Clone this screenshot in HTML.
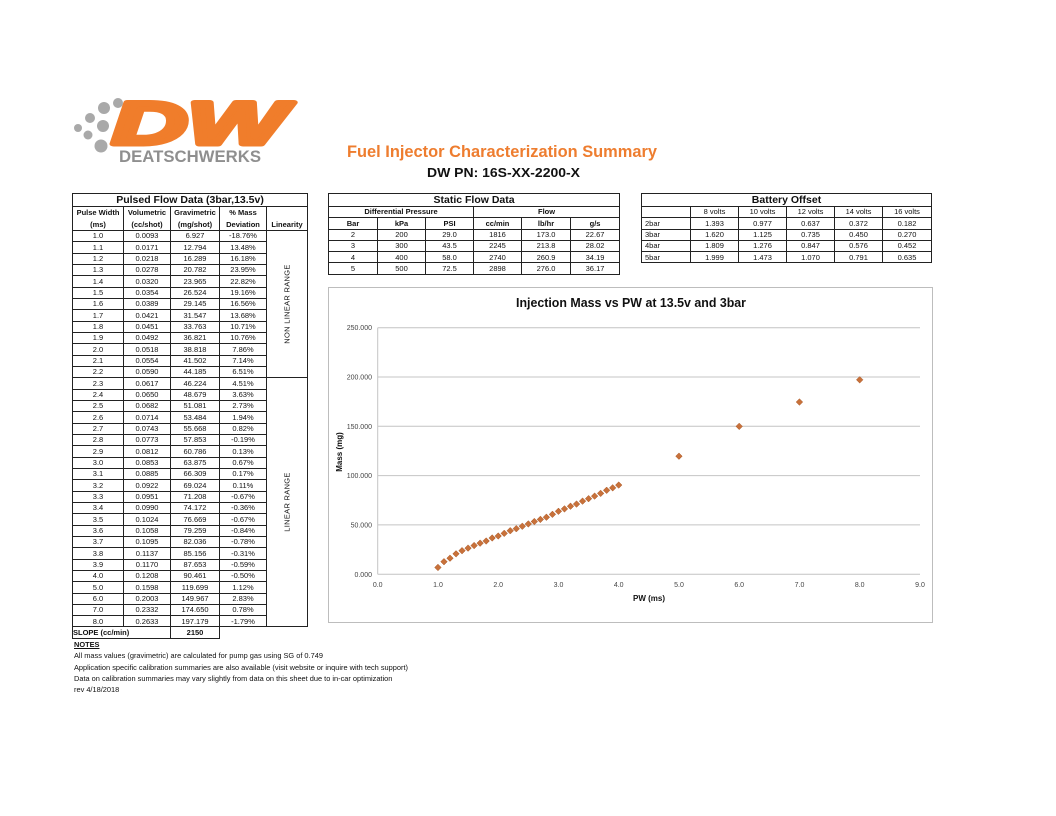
<!DOCTYPE html>
<html><head><meta charset="utf-8">
<style>
body{margin:0;width:1056px;height:816px;background:#fff;position:relative;overflow:hidden;font-family:"Liberation Sans",sans-serif;color:#111}
table{position:absolute;border-collapse:collapse;table-layout:fixed;font-size:7.5px}
td{border:1px solid #222;padding:0;text-align:center;white-space:nowrap;overflow:hidden;line-height:1}
.t{font-size:10.5px;font-weight:bold}
.b{font-weight:bold}
.rot{position:relative}
.rot span{position:absolute;left:50%;top:50%;transform:translate(-50%,-50%) rotate(-90deg);font-size:7.5px;letter-spacing:.3px}
#lt tr{height:11.33px}
#st tr,#bt tr{height:11.3px}
.nb{border:none}
.notes{position:absolute;left:74px;font-size:7.4px;line-height:11.3px}
</style></head><body>

<svg width="1056" height="816" style="position:absolute;left:0;top:0">
  <!-- logo -->
  <g fill="#a9a9a9">
    <circle cx="78" cy="128" r="4"/>
    <circle cx="90" cy="118" r="5"/>
    <circle cx="88" cy="135" r="4.5"/>
    <circle cx="104" cy="108" r="6"/>
    <circle cx="103" cy="126" r="6"/>
    <circle cx="101" cy="146" r="6.5"/>
    <circle cx="118" cy="103" r="5"/>
  </g>
  <text x="112" y="144" font-family="Liberation Sans" font-weight="bold" font-style="italic" font-size="60" fill="#f07d2b" stroke="#f07d2b" stroke-width="5" stroke-linejoin="round" textLength="174" lengthAdjust="spacingAndGlyphs">DW</text>
  <text x="119" y="162" font-family="Liberation Sans" font-weight="bold" font-size="17" fill="#8f8f8f" textLength="142" lengthAdjust="spacingAndGlyphs">DEATSCHWERKS</text>
  <text x="347" y="157" font-family="Liberation Sans" font-weight="bold" font-size="16.5" fill="#ee7d2f" textLength="310" lengthAdjust="spacingAndGlyphs">Fuel Injector Characterization Summary</text>
  <text x="427" y="177" font-family="Liberation Sans" font-weight="bold" font-size="12.5" fill="#111" textLength="153" lengthAdjust="spacingAndGlyphs">DW PN: 16S-XX-2200-X</text>

  <!-- chart -->
  <rect x="328.5" y="287.5" width="604" height="335" fill="#fff" stroke="#bdbdbd"/>
  <text x="631" y="307" text-anchor="middle" font-family="Liberation Sans" font-weight="bold" font-size="13" fill="#111" textLength="230" lengthAdjust="spacingAndGlyphs">Injection Mass vs PW at 13.5v and 3bar</text>
  <g stroke="#c4c4c4" stroke-width="1">
    <line x1="377.7" y1="327.7" x2="920" y2="327.7"/>
    <line x1="377.7" y1="377" x2="920" y2="377"/>
    <line x1="377.7" y1="426.3" x2="920" y2="426.3"/>
    <line x1="377.7" y1="475.6" x2="920" y2="475.6"/>
    <line x1="377.7" y1="524.9" x2="920" y2="524.9"/>
    <line x1="377.7" y1="574.3" x2="920" y2="574.3"/>
    <line x1="377.7" y1="327.7" x2="377.7" y2="574.3"/>
  </g>
  <g font-family="Liberation Sans" font-size="7" fill="#444" text-anchor="end">
    <text x="372" y="330">250.000</text>
    <text x="372" y="379.5">200.000</text>
    <text x="372" y="428.8">150.000</text>
    <text x="372" y="478">100.000</text>
    <text x="372" y="527.4">50.000</text>
    <text x="372" y="576.8">0.000</text>
  </g>
  <g font-family="Liberation Sans" font-size="7" fill="#444" text-anchor="middle">
    <text x="377.7" y="587">0.0</text><text x="438" y="587">1.0</text><text x="498.2" y="587">2.0</text>
    <text x="558.5" y="587">3.0</text><text x="618.7" y="587">4.0</text><text x="679" y="587">5.0</text>
    <text x="739.2" y="587">6.0</text><text x="799.5" y="587">7.0</text><text x="859.7" y="587">8.0</text>
    <text x="920" y="587">9.0</text>
  </g>
  <text x="649" y="601" text-anchor="middle" font-family="Liberation Sans" font-weight="bold" font-size="8" fill="#111">PW (ms)</text>
  <text transform="translate(342,452) rotate(-90)" text-anchor="middle" font-family="Liberation Sans" font-weight="bold" font-size="8" fill="#111">Mass (mg)</text>
  <defs><path id="d" d="M0,-3.3 L3.3,0 L0,3.3 L-3.3,0Z" fill="#c8713a" stroke="#a95a2b" stroke-width=".5"/></defs>
  <g>
    <use href="#d" x="437.95" y="567.47"/><use href="#d" x="443.98" y="561.68"/><use href="#d" x="450" y="558.23"/>
    <use href="#d" x="456.03" y="553.8"/><use href="#d" x="462.05" y="550.66"/><use href="#d" x="468.08" y="548.14"/>
    <use href="#d" x="474.1" y="545.55"/><use href="#d" x="480.13" y="543.18"/><use href="#d" x="486.15" y="541"/>
    <use href="#d" x="492.18" y="537.98"/><use href="#d" x="498.2" y="536.01"/><use href="#d" x="504.23" y="533.36"/>
    <use href="#d" x="510.25" y="530.72"/><use href="#d" x="516.28" y="528.7"/><use href="#d" x="522.3" y="526.28"/>
    <use href="#d" x="528.33" y="523.91"/><use href="#d" x="534.35" y="521.54"/><use href="#d" x="540.38" y="519.39"/>
    <use href="#d" x="546.4" y="517.23"/><use href="#d" x="552.43" y="514.34"/><use href="#d" x="558.45" y="511.29"/>
    <use href="#d" x="564.48" y="508.89"/><use href="#d" x="570.5" y="506.21"/><use href="#d" x="576.53" y="504.06"/>
    <use href="#d" x="582.55" y="501.14"/><use href="#d" x="588.58" y="498.67"/><use href="#d" x="594.6" y="496.12"/>
    <use href="#d" x="600.63" y="493.38"/><use href="#d" x="606.65" y="490.3"/><use href="#d" x="612.68" y="487.84"/>
    <use href="#d" x="618.7" y="485.07"/><use href="#d" x="678.95" y="456.23"/><use href="#d" x="739.2" y="426.37"/>
    <use href="#d" x="799.45" y="402.02"/><use href="#d" x="859.7" y="379.8"/>
  </g>
</svg>

<table id="lt" style="left:72px;top:193px;width:235px">
<colgroup><col style="width:51px"><col style="width:47px"><col style="width:49px"><col style="width:47px"><col style="width:41px"></colgroup>
<tr style="height:13px"><td colspan="5" class="t">Pulsed Flow Data (3bar,13.5v)</td></tr>
<tr style="height:12px" class="b"><td style="border-bottom:none">Pulse Width</td><td style="border-bottom:none">Volumetric</td><td style="border-bottom:none">Gravimetric</td><td style="border-bottom:none">% Mass</td><td style="border-bottom:none"></td></tr>
<tr style="height:12px" class="b"><td style="border-top:none">(ms)</td><td style="border-top:none">(cc/shot)</td><td style="border-top:none">(mg/shot)</td><td style="border-top:none">Deviation</td><td style="border-top:none">Linearity</td></tr>
<tr><td>1.0</td><td>0.0093</td><td>6.927</td><td>-18.76%</td><td rowspan="13" class="rot"><span>NON LINEAR RANGE</span></td></tr>
<tr><td>1.1</td><td>0.0171</td><td>12.794</td><td>13.48%</td></tr>
<tr><td>1.2</td><td>0.0218</td><td>16.289</td><td>16.18%</td></tr>
<tr><td>1.3</td><td>0.0278</td><td>20.782</td><td>23.95%</td></tr>
<tr><td>1.4</td><td>0.0320</td><td>23.965</td><td>22.82%</td></tr>
<tr><td>1.5</td><td>0.0354</td><td>26.524</td><td>19.16%</td></tr>
<tr><td>1.6</td><td>0.0389</td><td>29.145</td><td>16.56%</td></tr>
<tr><td>1.7</td><td>0.0421</td><td>31.547</td><td>13.68%</td></tr>
<tr><td>1.8</td><td>0.0451</td><td>33.763</td><td>10.71%</td></tr>
<tr><td>1.9</td><td>0.0492</td><td>36.821</td><td>10.76%</td></tr>
<tr><td>2.0</td><td>0.0518</td><td>38.818</td><td>7.86%</td></tr>
<tr><td>2.1</td><td>0.0554</td><td>41.502</td><td>7.14%</td></tr>
<tr><td>2.2</td><td>0.0590</td><td>44.185</td><td>6.51%</td></tr>
<tr><td>2.3</td><td>0.0617</td><td>46.224</td><td>4.51%</td><td rowspan="22" class="rot"><span>LINEAR RANGE</span></td></tr>
<tr><td>2.4</td><td>0.0650</td><td>48.679</td><td>3.63%</td></tr>
<tr><td>2.5</td><td>0.0682</td><td>51.081</td><td>2.73%</td></tr>
<tr><td>2.6</td><td>0.0714</td><td>53.484</td><td>1.94%</td></tr>
<tr><td>2.7</td><td>0.0743</td><td>55.668</td><td>0.82%</td></tr>
<tr><td>2.8</td><td>0.0773</td><td>57.853</td><td>-0.19%</td></tr>
<tr><td>2.9</td><td>0.0812</td><td>60.786</td><td>0.13%</td></tr>
<tr><td>3.0</td><td>0.0853</td><td>63.875</td><td>0.67%</td></tr>
<tr><td>3.1</td><td>0.0885</td><td>66.309</td><td>0.17%</td></tr>
<tr><td>3.2</td><td>0.0922</td><td>69.024</td><td>0.11%</td></tr>
<tr><td>3.3</td><td>0.0951</td><td>71.208</td><td>-0.67%</td></tr>
<tr><td>3.4</td><td>0.0990</td><td>74.172</td><td>-0.36%</td></tr>
<tr><td>3.5</td><td>0.1024</td><td>76.669</td><td>-0.67%</td></tr>
<tr><td>3.6</td><td>0.1058</td><td>79.259</td><td>-0.84%</td></tr>
<tr><td>3.7</td><td>0.1095</td><td>82.036</td><td>-0.78%</td></tr>
<tr><td>3.8</td><td>0.1137</td><td>85.156</td><td>-0.31%</td></tr>
<tr><td>3.9</td><td>0.1170</td><td>87.653</td><td>-0.59%</td></tr>
<tr><td>4.0</td><td>0.1208</td><td>90.461</td><td>-0.50%</td></tr>
<tr><td>5.0</td><td>0.1598</td><td>119.699</td><td>1.12%</td></tr>
<tr><td>6.0</td><td>0.2003</td><td>149.967</td><td>2.83%</td></tr>
<tr><td>7.0</td><td>0.2332</td><td>174.650</td><td>0.78%</td></tr>
<tr><td>8.0</td><td>0.2633</td><td>197.179</td><td>-1.79%</td></tr>
<tr class="b"><td colspan="2" style="text-align:left">SLOPE (cc/min)</td><td>2150</td><td class="nb" style="border-top:1px solid #222"></td><td class="nb" style="border-top:1px solid #222"></td></tr>
</table>

<div class="notes" style="top:639px"><b><u>NOTES</u></b><br>All mass values (gravimetric) are calculated for pump gas using SG of 0.749<br>Application specific calibration summaries are also available (visit website or inquire with tech support)<br>Data on calibration summaries may vary slightly from data on this sheet due to in-car optimization<br>rev 4/18/2018</div>

<table id="st" style="left:328px;top:193px;width:291px">
<colgroup><col style="width:49px"><col style="width:48px"><col style="width:48px"><col style="width:48px"><col style="width:49px"><col style="width:49px"></colgroup>
<tr style="height:13px"><td colspan="6" class="t">Static Flow Data</td></tr>
<tr class="b"><td colspan="3">Differential Pressure</td><td colspan="3">Flow</td></tr>
<tr class="b"><td>Bar</td><td>kPa</td><td>PSI</td><td>cc/min</td><td>lb/hr</td><td>g/s</td></tr>
<tr><td>2</td><td>200</td><td>29.0</td><td>1816</td><td>173.0</td><td>22.67</td></tr>
<tr><td>3</td><td>300</td><td>43.5</td><td>2245</td><td>213.8</td><td>28.02</td></tr>
<tr><td>4</td><td>400</td><td>58.0</td><td>2740</td><td>260.9</td><td>34.19</td></tr>
<tr><td>5</td><td>500</td><td>72.5</td><td>2898</td><td>276.0</td><td>36.17</td></tr>
</table>

<table id="bt" style="left:641px;top:193px;width:290px">
<colgroup><col style="width:49px"><col style="width:48px"><col style="width:48px"><col style="width:48px"><col style="width:48px"><col style="width:49px"></colgroup>
<tr style="height:13px"><td colspan="6" class="t">Battery Offset</td></tr>
<tr><td></td><td>8 volts</td><td>10 volts</td><td>12 volts</td><td>14 volts</td><td>16 volts</td></tr>
<tr><td style="text-align:left;padding-left:3px">2bar</td><td>1.393</td><td>0.977</td><td>0.637</td><td>0.372</td><td>0.182</td></tr>
<tr><td style="text-align:left;padding-left:3px">3bar</td><td>1.620</td><td>1.125</td><td>0.735</td><td>0.450</td><td>0.270</td></tr>
<tr><td style="text-align:left;padding-left:3px">4bar</td><td>1.809</td><td>1.276</td><td>0.847</td><td>0.576</td><td>0.452</td></tr>
<tr><td style="text-align:left;padding-left:3px">5bar</td><td>1.999</td><td>1.473</td><td>1.070</td><td>0.791</td><td>0.635</td></tr>
</table>
</body></html>
